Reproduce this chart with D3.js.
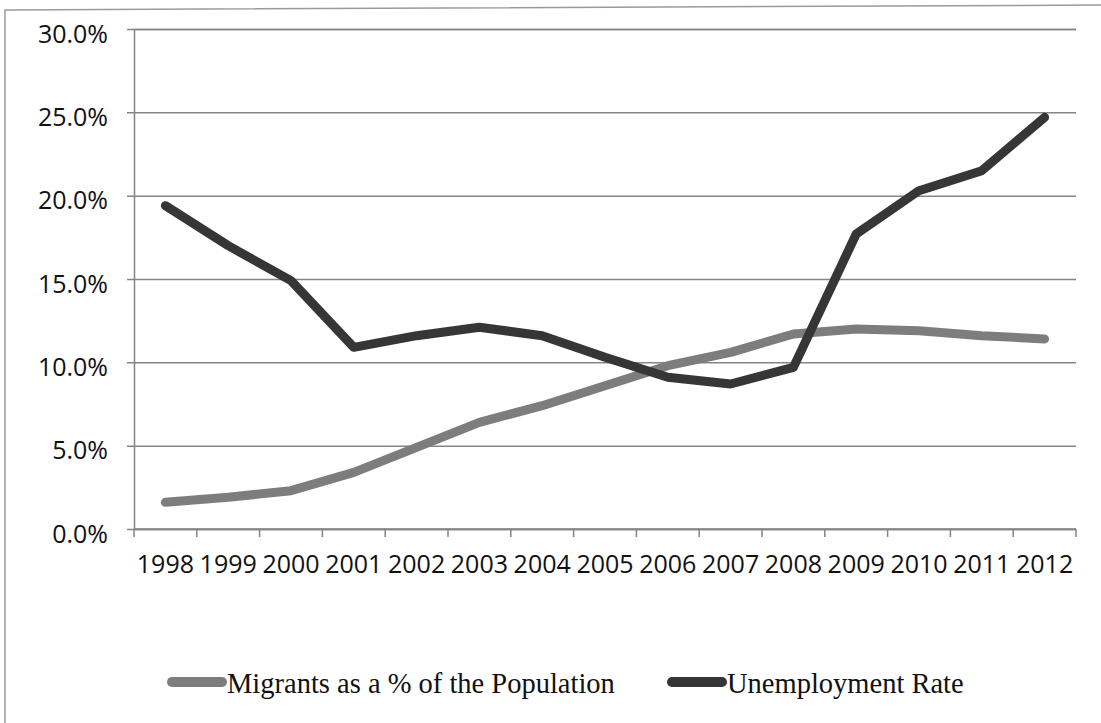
<!DOCTYPE html>
<html>
<head>
<meta charset="utf-8">
<script src="https://cdn.jsdelivr.net/npm/d3@7"></script>
<style>
  html, body { margin: 0; padding: 0; background: #fff; }
  svg { display: block; }
</style>
</head>
<body>
<svg id="chart" width="1101" height="723"></svg>
<script>
// Years on the category axis
const years = ["1998","1999","2000","2001","2002","2003","2004","2005","2006","2007","2008","2009","2010","2011","2012"];
// Migrants as a share of the population (%)
const migrants = [1.6, 1.9, 2.3, 3.4, 4.9, 6.4, 7.4, 8.6, 9.8, 10.6, 11.7, 12.0, 11.9, 11.6, 11.4];
// Unemployment rate (%)
const unemployment = [19.4, 17.0, 14.9, 10.9, 11.6, 12.1, 11.6, 10.3, 9.1, 8.7, 9.7, 17.7, 20.3, 21.5, 24.7];
// Value axis ticks (%)
const yTicks = [0, 5, 10, 15, 20, 25, 30];
const seriesNames = ["Migrants as a % of the Population", "Unemployment Rate"];

const svg = d3.select("#chart");
const plot = { left: 134, right: 1076, top: 29, bottom: 529 };

// Chart frame
svg.append("path")
  .attr("d", "M5,723 L5,10 L1101,5")
  .attr("fill", "none").attr("stroke", "#9a9a9a").attr("stroke-width", 1.5);

const x = d3.scaleBand().domain(years).range([plot.left, plot.right]).paddingInner(0).paddingOuter(0);
const y = d3.scaleLinear().domain([0, 30]).range([plot.bottom, plot.top]);

const gridColor = "#858585";
const tickFont = "'Open Sans', sans-serif";

// Horizontal gridlines with small outside ticks
const yAxis = d3.axisLeft(y).tickValues(yTicks).tickSize(-(plot.right - plot.left)).tickPadding(26)
  .tickFormat(d => d.toFixed(1) + "%");
const gy = svg.append("g").attr("transform", `translate(${plot.left},0)`).call(yAxis);
gy.select(".domain").attr("stroke", gridColor).attr("stroke-width", 1.5);
gy.selectAll(".tick line").attr("stroke", gridColor).attr("stroke-width", 1.5)
  .attr("x1", -7);
gy.selectAll(".tick text")
  .attr("font-family", tickFont).attr("font-size", 25).attr("fill", "#111")
  .attr("dy", "0.52em");

// Category axis: ticks at band boundaries, labels at band centres
const gx = svg.append("g").attr("transform", `translate(0,${plot.bottom})`);
gx.append("line")
  .attr("x1", plot.left).attr("x2", plot.right)
  .attr("stroke", gridColor).attr("stroke-width", 1.5);
const boundaries = years.map(d => x(d)).concat([x(years[years.length - 1]) + x.bandwidth()]);
gx.selectAll("line.tk").data(boundaries).join("line")
  .attr("class", "tk")
  .attr("x1", d => d).attr("x2", d => d)
  .attr("y1", 0).attr("y2", 8)
  .attr("stroke", gridColor).attr("stroke-width", 1.5);
gx.selectAll("text").data(years).join("text")
  .attr("x", d => x(d) + x.bandwidth() / 2)
  .attr("y", 44)
  .attr("text-anchor", "middle")
  .attr("font-family", tickFont).attr("font-size", 25).attr("fill", "#111")
  .text(d => d);

// Series lines
const cx = d => x(d) + x.bandwidth() / 2;
const line = d3.line().x(d => cx(d.year)).y(d => y(d.value));
const series = [
  { name: seriesNames[0], values: migrants, color: "#7d7d7d" },
  { name: seriesNames[1], values: unemployment, color: "#363636" }
];
series.forEach(s => {
  svg.append("path")
    .datum(years.map((yr, i) => ({ year: yr, value: s.values[i] })))
    .attr("d", line)
    .attr("fill", "none")
    .attr("stroke", s.color)
    .attr("stroke-width", 9)
    .attr("stroke-linejoin", "round")
    .attr("stroke-linecap", "round");
});

// Legend
const legendY = 682;
const legendItems = [
  { x: 172, s: series[0] },
  { x: 672, s: series[1] }
];
legendItems.forEach(item => {
  const g = svg.append("g").attr("transform", `translate(${item.x},${legendY})`);
  g.append("line")
    .attr("x1", 0).attr("x2", 50).attr("y1", 0).attr("y2", 0)
    .attr("stroke", item.s.color).attr("stroke-width", 10).attr("stroke-linecap", "round");
  g.append("text")
    .attr("x", 55).attr("y", 11)
    .attr("font-family", "'Liberation Serif', serif").attr("font-size", 28.5).attr("fill", "#111")
    .text(item.s.name);
});
</script>
</body>
</html>
